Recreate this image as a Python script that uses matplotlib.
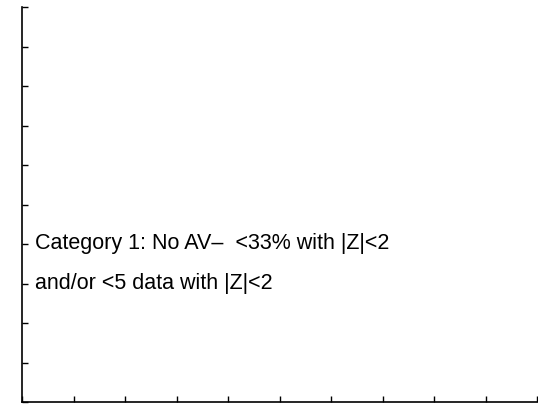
import matplotlib
matplotlib.use("Agg")
import matplotlib.pyplot as plt

xticks = list(range(0, 11))
yticks = list(range(0, 11))
lines = ["Category 1: No AV\u2013  <33% with |Z|<2", "and/or <5 data with |Z|<2"]
line_y = [4, 3]
line_x = 0.25

fig = plt.figure(figsize=(5.38, 4.09), dpi=100)
ax = fig.add_axes([22/538, 7/409, (537-22)/538, (402-7)/409])
ax.set_xlim(0, 10)
ax.set_ylim(0, 10)
ax.set_xticks(xticks)
ax.set_yticks(yticks)
ax.set_xticklabels([])
ax.set_yticklabels([])
ax.tick_params(direction="in", length=4, width=1, color="black")
for s in ["top", "right"]:
    ax.spines[s].set_visible(False)
for s in ["left", "bottom"]:
    ax.spines[s].set_linewidth(1.2)
for t, y in zip(lines, line_y):
    ax.text(line_x, y, t, fontsize=15.5, family="Liberation Sans", va="center", ha="left")
fig.savefig("out.png", dpi=100)
